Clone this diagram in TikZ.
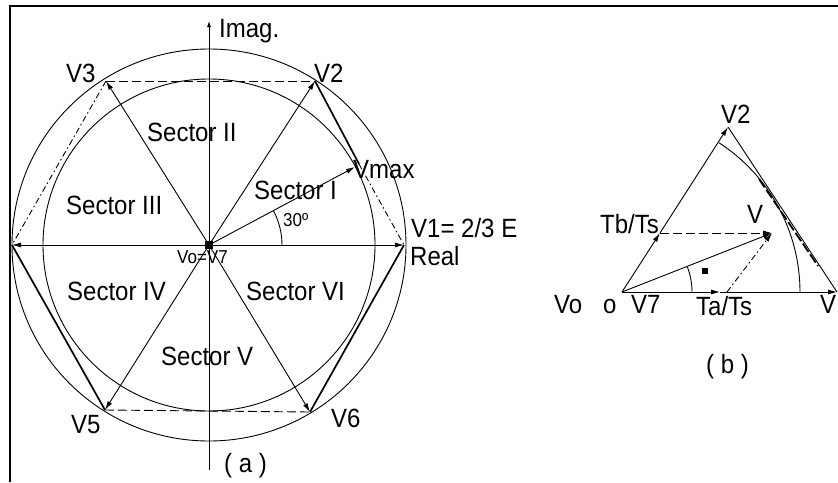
\documentclass[tikz,border=0pt]{standalone}
\usepackage{fontspec}
\setmainfont{Liberation Sans}
\usetikzlibrary{arrows.meta}
\newcommand{\tallt}[1]{\scalebox{1}[1.1]{#1}}
\begin{document}
\begin{tikzpicture}[x=1pt,y=-1pt,
  lbl/.style={font=\fontsize{24}{28}\selectfont, inner sep=0pt},
  small/.style={font=\fontsize{17}{19}\selectfont, inner sep=0pt},
  ln/.style={line width=0.9pt},
  vec/.style={ln, -{Latex[length=9pt,width=5pt]}},
  dsh/.style={ln, dash pattern=on 9pt off 4pt},
  dd/.style={ln, dash pattern=on 6pt off 3pt on 1.5pt off 3pt},
  thick edge/.style={line width=1.7pt}]
\useasboundingbox (0,0) rectangle (838,482);
% frame
\draw[line width=2pt] (10,482) -- (10,6) -- (838,6);
% ---------- (a) ----------
\coordinate (C) at (209,245);
\coordinate (V1) at (404,245);
\coordinate (V2) at (315,81);
\coordinate (V3) at (106,81);
\coordinate (V4) at (12,245);
\coordinate (V5) at (105,410);
\coordinate (V6) at (310,412);
\coordinate (M21) at (359,164);
\coordinate (VM) at (355,167);
\coordinate (Atop) at (209,21);
\coordinate (Abot) at (209,470);
\draw[ln] (C) ellipse[x radius=197, y radius=196];
\draw[ln] (C) circle[radius=166];
% axes
\draw[ln, -{Latex[length=6pt,width=4pt]}] (Abot) -- (Atop);
\draw[ln, {Latex[length=9pt,width=5pt]}-{Latex[length=9pt,width=5pt]}] (V4) -- (V1);
% hexagon edges
\draw[dsh] (V3) -- (V2);
\draw[dsh] (V5) -- (V6);
\draw[dd] (V3) -- (V4);
\draw[thick edge] (V4) -- (V5);
\draw[thick edge] (V6) -- (V1);
\draw[thick edge] (V2) -- (M21);
\draw[dd] (M21) -- (V1);
% vectors
\draw[vec] (C) -- (V2);
\draw[vec] (C) -- (V3);
\draw[vec] (C) -- (V5);
\draw[vec] (C) -- (V6);
\draw[vec] (C) -- (VM);
\draw[ln] (C) ++(73,0) arc[start angle=0, end angle=-28, radius=73];
\node[fill=black, minimum size=8pt, inner sep=0pt] (O) at (C) {};
% labels
\node[lbl, anchor=base west] (limag) at (219,37) {\tallt{Imag.}};
\node[lbl, anchor=base west] (lv3) at (66,82) {\tallt{V3}};
\node[lbl, anchor=base west] (lv2) at (314,82) {\tallt{V2}};
\node[lbl, anchor=base west] (ls2) at (147,141) {\tallt{Sector II}};
\node[lbl, anchor=base west] (ls3) at (66,214) {\tallt{Sector III}};
\node[lbl, anchor=base west] (ls1) at (254,199) {\tallt{Sector I}};
\node[lbl, anchor=base west] (lvm) at (353,178) {\tallt{Vmax}};
\node[small, anchor=base west] (l30) at (283,226) {\tallt{30º}};
\node[lbl, anchor=base west] (lv1) at (411,237) {\tallt{V1= 2/3 E}};
\node[lbl, anchor=base west] (lreal) at (410,265) {\tallt{Real}};
\node[small, anchor=base west] (lv07) at (177,263) {\tallt{Vo=V7}};
\node[lbl, anchor=base west] (ls4) at (67,300) {\tallt{Sector IV}};
\node[lbl, anchor=base west] (ls6) at (246,300) {\tallt{Sector VI}};
\node[lbl, anchor=base west] (ls5) at (161,365) {\tallt{Sector V}};
\node[lbl, anchor=base west] (lv5) at (71,433) {\tallt{V5}};
\node[lbl, anchor=base west] (lv6) at (331,427) {\tallt{V6}};
\node[lbl, anchor=base west] (la) at (224,472) {\tallt{( a )}};
% ---------- (b) ----------
\coordinate (B0) at (622,292);
\coordinate (B1) at (837,292);
\coordinate (B2) at (728,127);
\coordinate (Tb) at (660,233);
\coordinate (Ta) at (720,292);
\coordinate (Ta2) at (727,292);
\coordinate (BV) at (772,233);
\coordinate (R1) at (759,179);
\coordinate (R2) at (818,266);
\draw[vec] (B0) -- (Tb);
\draw[vec] (Tb) -- (B2);
\draw[ln] (B2) -- (B1);
\draw[vec] (B0) -- (Ta);
\draw[vec] (Ta) -- (B1);
\draw[vec] (B0) -- (BV);
\draw[dsh, -{Latex[length=9pt,width=5pt]}] (Tb) -- (BV);
\draw[dd, -{Latex[length=9pt,width=5pt]}] (Ta2) -- (BV);
\draw[line width=1.8pt, dash pattern=on 10pt off 3pt] (R1) -- (R2);
\draw[ln] (B0) ++(178,0) arc[start angle=0, end angle=-57, radius=178];
\draw[ln] (B0) ++(70,0) arc[start angle=0, end angle=-21, radius=70];
\node[fill=black, minimum size=6pt, inner sep=0pt] (sq) at (705,271) {};
\node[lbl, anchor=base west] (lb2) at (721,123) {\tallt{V2}};
\node[lbl, anchor=base west] (ltb) at (600,233) {\tallt{Tb/Ts}};
\node[lbl, anchor=base west] (lbv) at (747,223) {\tallt{V}};
\node[lbl, anchor=base west] (lta) at (696,315) {\tallt{Ta/Ts}};
\node[lbl, anchor=base west] (lvo) at (554,313) {\tallt{Vo}};
\node[lbl, anchor=base west] (lo) at (603,313) {\tallt{o}};
\node[lbl, anchor=base west] (lv7) at (631,313) {\tallt{V7}};
\node[lbl, anchor=base west] (lbv1) at (820,313) {\tallt{V}};
\node[lbl, anchor=base west] (lb) at (706,373) {\tallt{( b )}};
\end{tikzpicture}
\end{document}
